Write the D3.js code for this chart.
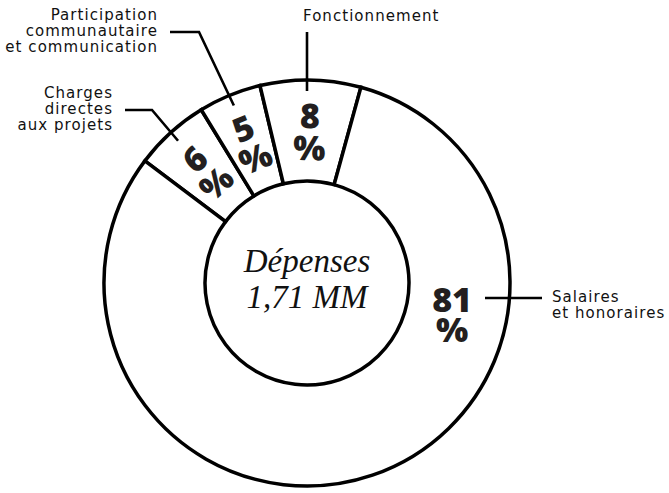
<!DOCTYPE html>
<html>
<head>
<meta charset="utf-8">
<script src="https://cdn.jsdelivr.net/npm/d3@7"></script>
<style>
  body { margin: 0; background: #fff; }
  .lbl { font-family: "DejaVu Sans", sans-serif; font-size: 15px; letter-spacing: 1.05px; fill: #111; }
  .pct { font-family: "Open Sans", sans-serif; font-weight: 800; font-size: 34px; fill: #231f20; }
  .ctr { font-family: "Liberation Serif", serif; font-style: italic; font-size: 33px; fill: #111; }
</style>
</head>
<body>
<div id="chart"></div>
<script>
// slices, clockwise from the top-left
var categories = ["Charges directes aux projets", "Participation communautaire et communication", "Fonctionnement", "Salaires et honoraires"];
var values = [6, 5, 8, 81];
var labelLines = [["Charges", "directes", "aux projets"], ["Participation", "communautaire", "et communication"], ["Fonctionnement"], ["Salaires", "et honoraires"]];
var centerLines = ["Dépenses", "1,71 MM"];

var width = 669, height = 493;
var cx = 307, cy = 283;
var rIn = 102, rOut = 203;
var rad = Math.PI / 180;

var svg = d3.select('#chart').append('svg')
    .attr('width', width)
    .attr('height', height);

var g = svg.append('g')
    .attr('transform', 'translate(' + cx + ',' + cy + ')');

var data = categories.map(function(c, i) {
    return { cat: c, value: values[i], lines: labelLines[i] };
});

var pie = d3.pie()
    .sort(null)
    .value(function(d) { return d.value; })
    .startAngle(-53 * rad)
    .endAngle(307 * rad);

var arc = d3.arc()
    .innerRadius(rIn)
    .outerRadius(rOut);

var arcs = pie(data);

g.selectAll('path.slice')
    .data(arcs)
    .enter().append('path')
    .attr('class', 'slice')
    .attr('d', arc)
    .style('fill', '#fff')
    .style('stroke', '#000')
    .style('stroke-width', 3.5)
    .style('stroke-linejoin', 'miter');

function polar(a, r) {
    return [r * Math.sin(a), -r * Math.cos(a)];
}
function mid(d) { return (d.startAngle + d.endAngle) / 2; }

// percentages: small slices rotated along the radius, big one flat on the right
arcs.forEach(function(d, i) {
    var big = d.data.value > 50;
    var lg;
    if (big) {
        var p = polar(96.5 * rad, 146);
        lg = g.append('g').attr('transform', 'translate(' + p[0] + ',' + p[1] + ')');
        lg.append('text').attr('class', 'pct').attr('text-anchor', 'middle')
            .attr('y', 0).attr('dy', '0.36em').text(d.data.value);
        lg.append('text').attr('class', 'pct').attr('text-anchor', 'middle')
            .attr('y', 30).attr('dy', '0.36em').text('%');
    } else {
        lg = g.append('g').attr('transform', 'rotate(' + (mid(d) / rad) + ')');
        lg.append('text').attr('class', 'pct').attr('text-anchor', 'middle')
            .attr('y', -167).attr('dy', '0.36em').text(d.data.value);
        lg.append('text').attr('class', 'pct').attr('text-anchor', 'middle')
            .attr('y', -135).attr('dy', '0.36em').text('%');
    }
});

// leader lines + category labels
var leaders = {
    "Charges directes aux projets": { elbow: [152, 110], end: 125, tx: 113, anchor: 'end', line: 1 },
    "Participation communautaire et communication": { elbow: [199, 32], end: 170, tx: 158, anchor: 'end', line: 1 },
    "Fonctionnement": { elbow: [307, 32], end: null, tx: 303, ty: 21, anchor: 'start' },
    "Salaires et honoraires": { start: [485, 298], end: 542, tx: 552, anchor: 'start', line: 0 }
};

var ann = svg.append('g');
var lh = 16.3;

arcs.forEach(function(d) {
    var L = leaders[d.data.cat];
    var pts = [];
    if (L.start) {
        pts = [L.start, [L.end, L.start[1]]];
    } else {
        var p = polar(mid(d), 192);
        var a = [cx + p[0], cy + p[1]];
        if (L.end === null) {
            pts = [[L.elbow[0], a[1]], L.elbow];
        } else {
            pts = [a, L.elbow, [L.end, L.elbow[1]]];
        }
    }
    ann.append('path')
        .attr('d', d3.line()(pts))
        .style('fill', 'none')
        .style('stroke', '#000')
        .style('stroke-width', 2.6);

    var y0 = L.ty !== undefined ? L.ty : pts[pts.length - 1][1] + 4 - L.line * lh;
    var t = ann.append('text')
        .attr('class', 'lbl')
        .attr('text-anchor', L.anchor);
    d.data.lines.forEach(function(s, j) {
        t.append('tspan').attr('x', L.tx).attr('y', y0 + j * lh).text(s);
    });
});

// centre
var ct = g.append('text').attr('class', 'ctr').attr('text-anchor', 'middle');
centerLines.forEach(function(s, j) {
    ct.append('tspan').attr('x', 0).attr('y', -11 + j * 36).text(s);
});
</script>
</body>
</html>
